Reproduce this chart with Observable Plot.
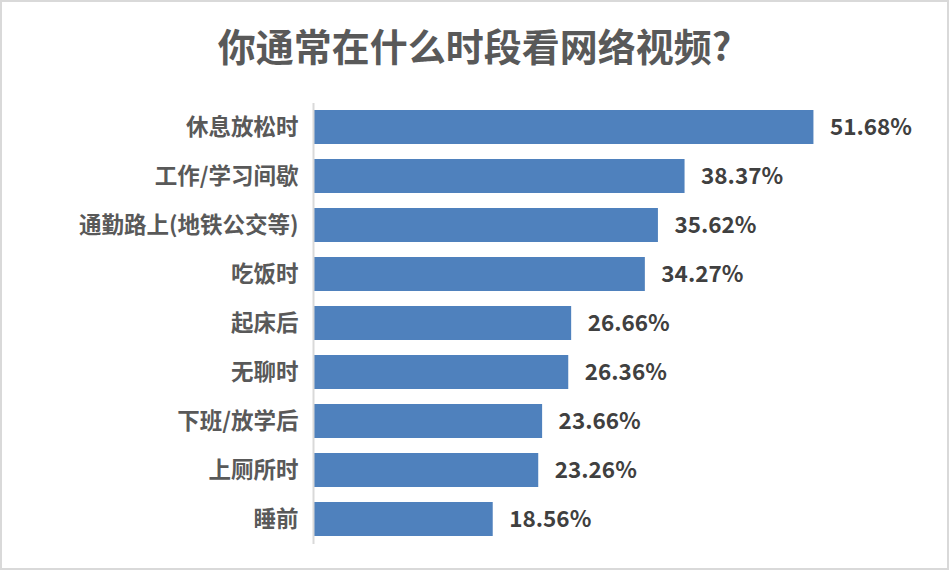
<!DOCTYPE html>
<html>
<head>
<meta charset="utf-8">
<script src="https://cdn.jsdelivr.net/npm/d3@7"></script>
<script src="https://cdn.jsdelivr.net/npm/@observablehq/plot@0.6"></script>
<style>
  html, body { margin: 0; padding: 0; background: #fff; }
  #frame { position: relative; width: 949px; height: 570px; box-sizing: border-box; border: 2px solid #d9d9d9; overflow: hidden; }
  #title { position: absolute; left: 0; top: 15px; width: 945px; text-align: center; font-family: "Noto Sans CJK SC", sans-serif; font-weight: 700; font-size: 38px; color: #595959; line-height: 56px; }
  #chart { position: absolute; left: 0; top: 0; }
</style>
</head>
<body>
<div id="frame">
  <div id="title">你通常在什么时段看网络视频?</div>
  <div id="chart"></div>
</div>
<script>
const categories = ["休息放松时", "工作/学习间歇", "通勤路上(地铁公交等)", "吃饭时", "起床后", "无聊时", "下班/放学后", "上厕所时", "睡前"];
const values = [51.68, 38.37, 35.62, 34.27, 26.66, 26.36, 23.66, 23.26, 18.56];
const valueLabels = ["51.68%", "38.37%", "35.62%", "34.27%", "26.66%", "26.36%", "23.66%", "23.26%", "18.56%"];

const data = categories.map((c, i) => ({category: c, value: values[i], label: valueLabels[i]}));

const font = "'Noto Sans CJK SC', 'Open Sans', sans-serif";
const chart = Plot.plot({
  width: 945,
  height: 566,
  marginTop: 101,
  marginBottom: 24,
  marginLeft: 311,
  marginRight: 53,
  style: {fontFamily: font, background: "transparent"},
  x: {domain: [0, 60], axis: null},
  y: {domain: categories, paddingInner: 0.3, paddingOuter: 0.15, label: null},
  marks: [
    Plot.barX(data, {x: "value", y: "category", fill: "#4f81bd"}),
    Plot.ruleX([0], {stroke: "#d9d9d9", strokeWidth: 2}),
    Plot.axisY({tickSize: 0, tickPadding: 15, fontSize: 22.5, fontWeight: "bold", fill: "#595959", label: null}),
    Plot.text(data, {x: "value", y: "category", text: "label", dx: 16, textAnchor: "start", fontSize: 22.5, fontWeight: "bold", fill: "#404040"})
  ]
});
document.getElementById("chart").appendChild(chart);
</script>
</body>
</html>
